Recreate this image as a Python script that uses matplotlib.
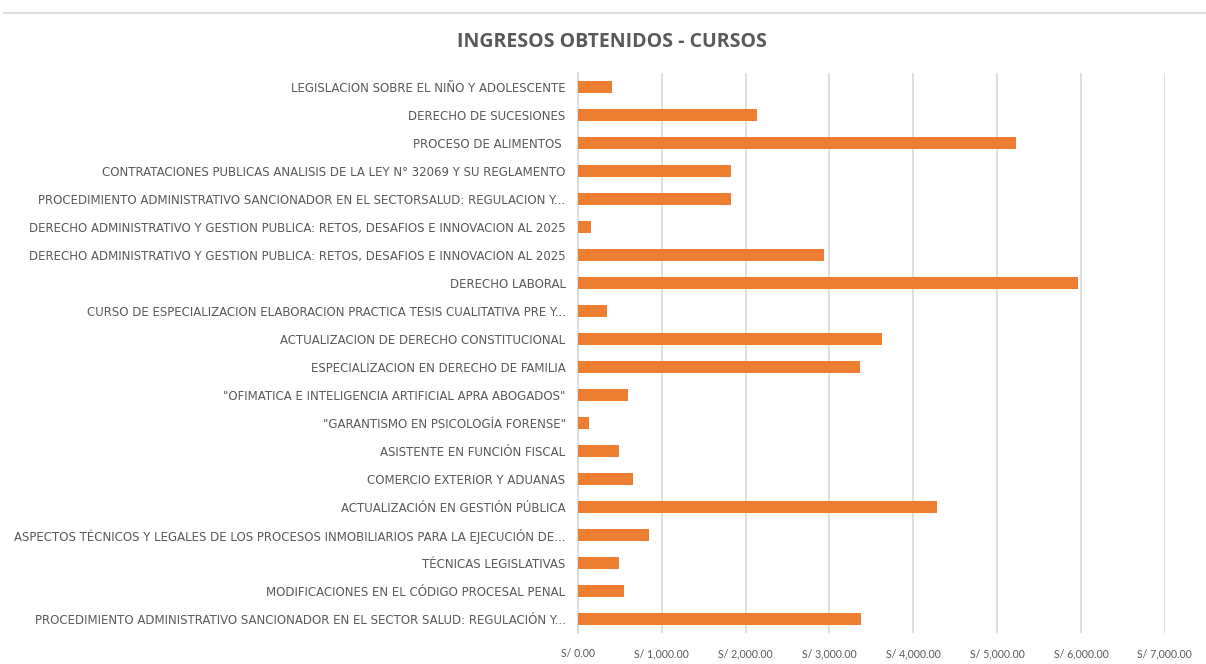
import matplotlib.pyplot as plt
import matplotlib.ticker as mticker
from matplotlib.lines import Line2D

# course names, top to bottom as in the chart
cursos = [
    "LEGISLACION SOBRE EL NIÑO Y ADOLESCENTE",
    "DERECHO DE SUCESIONES",
    "PROCESO DE ALIMENTOS ",
    "CONTRATACIONES PUBLICAS ANALISIS DE LA LEY N° 32069 Y SU REGLAMENTO",
    "PROCEDIMIENTO ADMINISTRATIVO SANCIONADOR EN EL SECTORSALUD: REGULACION Y...",
    "DERECHO ADMINISTRATIVO Y GESTION PUBLICA: RETOS, DESAFIOS E INNOVACION AL 2025",
    "DERECHO ADMINISTRATIVO Y GESTION PUBLICA: RETOS, DESAFIOS E INNOVACION AL 2025",
    "DERECHO LABORAL",
    "CURSO DE ESPECIALIZACION ELABORACION PRACTICA TESIS CUALITATIVA PRE Y...",
    "ACTUALIZACION DE DERECHO CONSTITUCIONAL",
    "ESPECIALIZACION EN DERECHO DE FAMILIA",
    "\"OFIMATICA E INTELIGENCIA ARTIFICIAL APRA ABOGADOS\"",
    "\"GARANTISMO EN PSICOLOGÍA FORENSE\"",
    "ASISTENTE EN FUNCIÓN FISCAL",
    "COMERCIO EXTERIOR Y ADUANAS",
    "ACTUALIZACIÓN EN GESTIÓN PÚBLICA",
    "ASPECTOS TÉCNICOS Y LEGALES DE LOS PROCESOS INMOBILIARIOS PARA LA EJECUCIÓN DE...",
    "TÉCNICAS LEGISLATIVAS",
    "MODIFICACIONES EN EL CÓDIGO PROCESAL PENAL",
    "PROCEDIMIENTO ADMINISTRATIVO SANCIONADOR EN EL SECTOR SALUD: REGULACIÓN Y...",
]

# income per course (S/)
ingresos = [400, 2140, 5220, 1830, 1830, 150, 2935, 5960, 340, 3630,
            3360, 595, 130, 487, 655, 4280, 845, 487, 547, 3377]

xticks = [0, 1000, 2000, 3000, 4000, 5000, 6000, 7000]

gray = "#595959"
grid = "#d9d9d9"
orange = "#ed7d31"

fig = plt.figure(figsize=(12.06, 6.64), dpi=100)
ax = fig.add_axes([0.4793, 0.0467, 0.4865, 0.8434])

ypos = list(range(len(cursos)))
ax.barh(ypos, ingresos, height=0.4, color=orange, zorder=3)
ax.set_ylim(len(cursos) - 0.5, -0.5)
ax.set_xlim(0, 7000)

ax.set_yticks(ypos)
ax.set_yticklabels(cursos, fontsize=8.5, color=gray, family="DejaVu Sans")
ax.set_xticks(xticks)
ax.xaxis.set_major_formatter(mticker.FuncFormatter(lambda v, p: "S/ {:,.2f}".format(v)))
for lab in ax.get_xticklabels():
    lab.set_family("Lato")
    lab.set_fontsize(7.6)
    lab.set_color(gray)

ax.tick_params(axis="both", length=0)
ax.tick_params(axis="y", pad=9)
ax.tick_params(axis="x", pad=11)

ax.grid(axis="x", color=grid, linewidth=1.2, zorder=0)
for side in ["top", "right", "bottom"]:
    ax.spines[side].set_visible(False)
ax.spines["left"].set_color(grid)
ax.spines["left"].set_linewidth(1.2)

fig.text(0.507, 0.937, "INGRESOS OBTENIDOS - CURSOS", ha="center", va="center",
         fontsize=14, fontweight="bold", color=gray, family="Open Sans")

# light border line along the top of the sheet
fig.add_artist(Line2D([0.003, 1.0], [0.980, 0.980], color="#e0e0e0", linewidth=1.5))

fig.savefig("out.png", dpi=100)
